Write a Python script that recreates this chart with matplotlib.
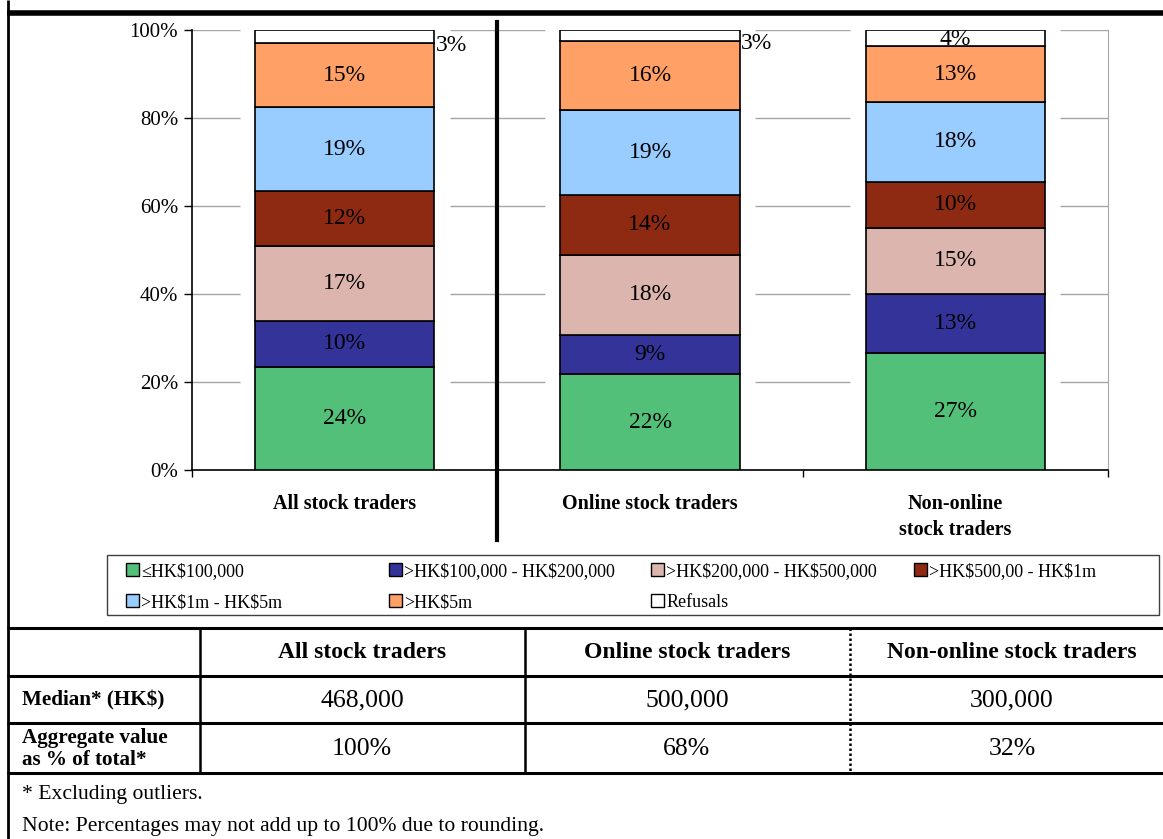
import matplotlib
matplotlib.use("Agg")
import matplotlib.pyplot as plt
import numpy as np
from matplotlib.patches import Patch, Rectangle
from matplotlib.lines import Line2D

plt.rcParams['font.family'] = ['Liberation Serif', 'DejaVu Serif']
plt.rcParams['text.parse_math'] = False

# ---------------- data ----------------
categories = ["All stock traders", "Online stock traders", "Non-online\nstock traders"]
series_names = ["≤HK$100,000", ">HK$100,000 - HK$200,000", ">HK$200,000 - HK$500,000",
                ">HK$500,00 - HK$1m", ">HK$1m - HK$5m", ">HK$5m", "Refusals"]
le_100k = [23.4, 21.8, 26.6]
k100_200 = [10.5, 8.9, 13.4]
k200_500 = [17.0, 18.2, 15.0]
k500_1m = [12.5, 13.6, 10.5]
m1_5 = [19.1, 19.3, 18.1]
gt_5m = [14.5, 15.7, 12.8]
refusals = [3.0, 2.5, 3.6]
series_values = [le_100k, k100_200, k200_500, k500_1m, m1_5, gt_5m, refusals]
series_labels = [["24%", "22%", "27%"], ["10%", "9%", "13%"], ["17%", "18%", "15%"],
                 ["12%", "14%", "10%"], ["19%", "19%", "18%"], ["15%", "16%", "13%"],
                 ["3%", "3%", "4%"]]
yticks = [0, 20, 40, 60, 80, 100]
ytick_labels = ["0%", "20%", "40%", "60%", "80%", "100%"]

table_header = ["All stock traders", "Online stock traders", "Non-online stock traders"]
table_rows = ["Median* (HK$)", "Aggregate value\nas % of total*"]
median_values = ["468,000", "500,000", "300,000"]
aggregate_values = ["100%", "68%", "32%"]
footnotes = ["* Excluding outliers.", "Note: Percentages may not add up to 100% due to rounding."]

colors = ["#52C079", "#333399", "#DDB5AF", "#8E2A12", "#99CCFF", "#FFA066", "#FFFFFF"]

# ---------------- figure ----------------
W, H = 1163, 839
fig = plt.figure(figsize=(W / 100, H / 100), dpi=100)

def fx(px):
    return px / W

def fy(py):
    return 1 - py / H

ax_l, ax_r, ax_t, ax_b = 192, 1108, 30, 470
ax = fig.add_axes([fx(ax_l), fy(ax_b), fx(ax_r) - fx(ax_l), fy(ax_t) - fy(ax_b)])

x = np.arange(len(categories))
width = 0.587
bottom = np.zeros(len(categories))
for vals, col, labs, name in zip(series_values, colors, series_labels, series_names):
    vals = np.array(vals)
    ax.bar(x, vals, width, bottom=bottom, color=col, edgecolor="black", linewidth=1.2,
           zorder=3, label=name)
    if name != "Refusals":
        for xi, b, v, lab in zip(x, bottom, vals, labs):
            ax.text(xi, b + v / 2, lab, ha="center", va="center", fontsize=17, zorder=5)
    else:
        for i, (xi, b, v, lab) in enumerate(zip(x, bottom, vals, labs)):
            if i < 2:
                ax.text(xi + width / 2 + 0.005, b - 0.6, lab, ha="left", va="center",
                        fontsize=17, zorder=5)
            else:
                ax.text(xi, b + v / 2 - 0.4, lab, ha="center", va="center",
                        fontsize=17, zorder=5)
    bottom += vals

ax.set_xlim(-0.5, 2.5)
ax.set_ylim(0, 100)

# gridlines broken around bars (Excel look)
gap = 0.05
edges = [(-0.5, -width / 2 - gap)]
for i in range(len(x) - 1):
    edges.append((x[i] + width / 2 + gap, x[i + 1] - width / 2 - gap))
edges.append((x[-1] + width / 2 + gap, 2.5))
for yv in yticks[1:]:
    for a, b in edges:
        ax.plot([a, b], [yv, yv], color="#A6A6A6", lw=1.0, zorder=1, solid_capstyle="butt")

ax.spines["top"].set_visible(False)
ax.spines["right"].set_color("#A6A6A6")
ax.spines["left"].set_linewidth(1.2)
ax.spines["bottom"].set_linewidth(1.2)

ax.set_yticks(yticks)
ax.set_yticklabels(ytick_labels, fontsize=15)
ax.tick_params(axis="y", direction="out", length=6, width=1, pad=4)

ax.set_xticks([-0.5, 0.5, 1.5, 2.5])
ax.set_xticklabels([])
ax.tick_params(axis="x", which="major", direction="out", length=5, width=1)
ax.set_xticks(x, minor=True)
ax.set_xticklabels(categories, minor=True, fontsize=14.5, fontweight="bold", linespacing=1.42)
ax.tick_params(axis="x", which="minor", length=0, pad=17)

# thick separator between all traders and sub-groups
ax.plot([0.5, 0.5], [-16.0, 101.8], color="black", lw=3, clip_on=False, zorder=6)

# legend: frame box plus one legend per column so columns are evenly spaced
box_l, box_r, box_t, box_b = 107, 1159, 555, 615
fig.add_artist(Rectangle((fx(box_l), fy(box_b)), fx(box_r) - fx(box_l), fy(box_t) - fy(box_b),
                         facecolor="white", edgecolor="#404040", lw=1.0))
handles = [Patch(facecolor=c, edgecolor="black", linewidth=1.0) for c in colors]
columns = [[0, 4], [1, 5], [2, 6], [3]]
col_x = [126, 389, 651, 914]
for cx, idxs in zip(col_x, columns):
    lg = fig.legend([handles[i] for i in idxs], [series_names[i] for i in idxs],
                    loc="upper left", bbox_to_anchor=(fx(cx), fy(563)),
                    fontsize=13, frameon=False, handlelength=0.7, handleheight=0.7,
                    handletextpad=0.15, borderaxespad=0, borderpad=0, labelspacing=0.78)

# ---------------- borders & table ----------------
def hline(py, x0, x1, lw, ls="-"):
    fig.add_artist(Line2D([fx(x0), fx(x1)], [fy(py), fy(py)], color="black", lw=lw, ls=ls,
                          solid_capstyle="butt"))

def vline(px, y0, y1, lw, ls="-"):
    fig.add_artist(Line2D([fx(px), fx(px)], [fy(y0), fy(y1)], color="black", lw=lw, ls=ls,
                          solid_capstyle="butt"))

vline(7.5, 0, 839, 2)
hline(12.5, 6.5, 1163, 4)

for py in [628, 676, 723, 773]:
    hline(py, 6.5, 1163, 2.2)
vline(200, 628, 773, 1.8)
vline(525, 628, 773, 1.8)
vline(850, 628, 773, 1.8, ls=(0, (1, 1)))

col_centers = [362, 687, 1012]
for cx, t in zip(col_centers, table_header):
    fig.text(fx(cx), fy(653), t, ha="center", va="center", fontsize=17, fontweight="bold")
fig.text(fx(22), fy(700), table_rows[0], ha="left", va="center", fontsize=15.2, fontweight="bold")
fig.text(fx(22), fy(749), table_rows[1], ha="left", va="center", fontsize=15.2,
         fontweight="bold", linespacing=1.08)
for cx, v in zip(col_centers, median_values):
    fig.text(fx(cx), fy(700), v, ha="center", va="center", fontsize=18.5)
for cx, v in zip(col_centers, aggregate_values):
    fig.text(fx(cx), fy(749), v, ha="center", va="center", fontsize=18.5)

fig.text(fx(22), fy(795), footnotes[0], ha="left", va="center", fontsize=15.6)
fig.text(fx(22), fy(826), footnotes[1], ha="left", va="center", fontsize=15.6)

fig.savefig("out.png", dpi=100)
